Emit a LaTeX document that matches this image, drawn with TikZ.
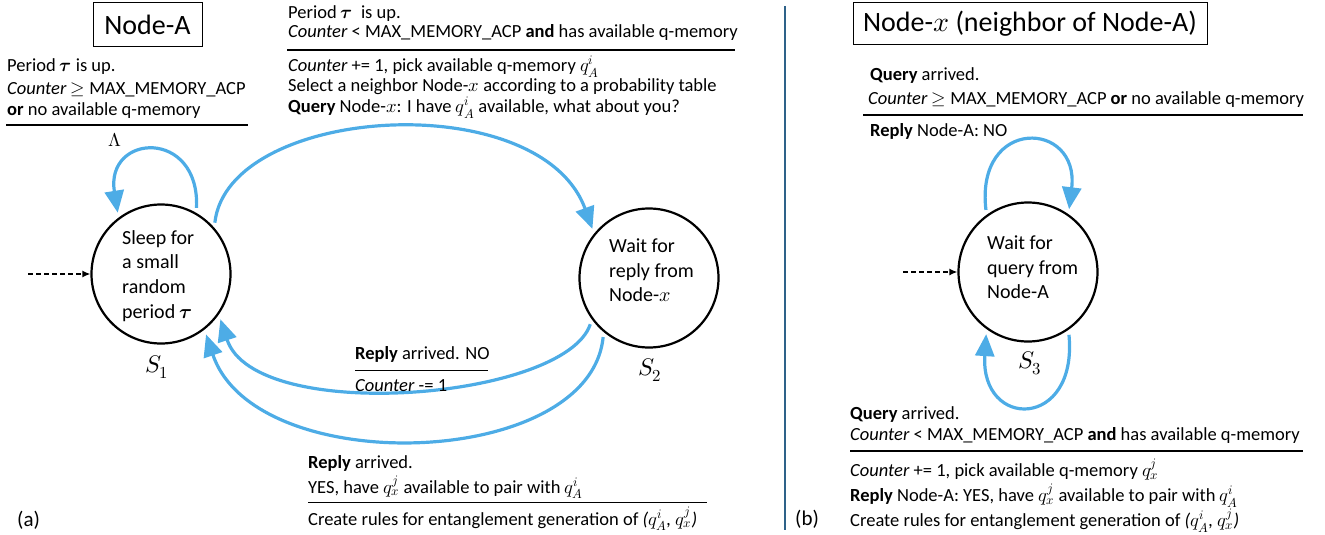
\documentclass[tikz,border=0pt]{standalone}
\usepackage{fontspec}
\usepackage{unicode-math}
\setmainfont{Carlito}
\setmathfont{Latin Modern Math}
\usetikzlibrary{arrows.meta}
\definecolor{arrowblue}{RGB}{77,172,230}
\definecolor{divblue}{RGB}{46,98,137}
\begin{document}
\begin{tikzpicture}[x=1pt,y=-1pt,
 txt/.style={anchor=base west, inner sep=0pt, font=\fontsize{18.5}{22}\selectfont},
 ctxt/.style={anchor=base west, inner sep=0pt, font=\fontsize{20}{24}\selectfont},
 state/.style={circle, draw, line width=2.2pt, minimum size=139pt, inner sep=0pt},
 trans/.style={draw=arrowblue, line width=3.2pt, shorten <=5pt, shorten >=5pt, -{Triangle[length=22pt,width=19pt]}},
 init/.style={draw, line width=1.5pt, dash pattern=on 5pt off 3pt, -{Latex[length=8pt,width=7pt]}},
 hrule/.style={line width=1.2pt},
 titlebox/.style={draw, line width=1pt, font=\fontsize{28}{32}\selectfont, inner sep=0pt},
 slabel/.style={font=\fontsize{24}{28}\selectfont, inner sep=0pt},
 panel/.style={anchor=base west, inner sep=0pt, font=\fontsize{21}{24}\selectfont}
]
\useasboundingbox (0,0) rectangle (1325,535);

% titles
\node[titlebox, minimum width=109pt, minimum height=44pt] (titleA) at (147.5,25) {Node-A};
\node[titlebox, minimum width=354pt, minimum height=42pt] (titleX) at (1030,24) {Node-$x$ (neighbor of Node-A)};

% divider
\draw[divblue, line width=2.5pt] (785,6) -- (785,530);

% states
\node[state] (s1) at (161,274) {};
\node[state] (s2) at (649,278) {};
\node[state] (s3) at (1028,272) {};

\node[ctxt] (s1a) at (122,244.3) {Sleep for};
\node[ctxt] (s1b) at (122,268.3) {a small};
\node[ctxt] (s1c) at (122,293.3) {random};
\node[ctxt] (s1d) at (122,318.3) {period $\symbfit{\tau}$};

\node[ctxt] (s2a) at (609,252.7) {Wait for};
\node[ctxt] (s2b) at (609,277.3) {reply from};
\node[ctxt] (s2c) at (609,301.7) {Node-$x$};

\node[ctxt] (s3a) at (987,249.3) {Wait for};
\node[ctxt] (s3b) at (987,274) {query from};
\node[ctxt] (s3c) at (987,298.3) {Node-A};

\node[slabel] (l1) at (157,367) {$S_1$};
\node[slabel] (l2) at (650,370) {$S_2$};
\node[slabel] (l3) at (1030,363) {$S_3$};

% initial arrows
\coordinate (d1) at (28,274);
\coordinate (d3) at (903,272);
\draw[init] (d1) -- (s1.west);
\draw[init] (d3) -- (s3.west);

% transitions
\draw[trans] (s1.60) .. controls (200,128) and (105,133) .. (s1.127);
\draw[trans] (s1.41) .. controls (228,105) and (540,85) .. (s2.141);
\draw[trans] (s2.216) .. controls (565,400) and (255,425) .. (s1.325);
\draw[trans] (s2.230) .. controls (590,470) and (255,480) .. (s1.308);
\draw[trans] (s3.126) .. controls (975,116) and (1080,120) .. (s3.55);
\draw[trans] (s3.-55) .. controls (1078,430) and (980,430) .. (s3.-126);

% top-left label
\node[txt] (tl1) at (7,71.7) {Period $\symbfit{\tau}$ is up.};
\node[txt] (tl2) at (7,94) {\textit{Counter} $\geq$ MAX\_MEMORY\_ACP};
\node[txt] (tl3) at (7,115) {\textbf{or} no available q-memory};
\draw[hrule] (6,125) -- (248,125);
\node[txt, anchor=base] (lam) at (115,146.7) {$\Lambda$};

% top-middle label
\node[txt] (tm1) at (288,18.3) {Period $\symbfit{\tau}$\ \ is up.};
\node[txt] (tm2) at (288,38) {\textit{Counter} < MAX\_MEMORY\_ACP \textbf{and} has available q-memory};
\draw[hrule] (287,50) -- (735,50);
\node[txt] (tm3) at (288,71.5) {\textit{Counter} += 1, pick available q-memory $q_A^i$};
\node[txt] (tm4) at (288,92) {Select a neighbor Node-$x$ according to a probability table};
\node[txt] (tm5) at (288,112.5) {\textbf{Query} Node-$x$: I have $q_A^i$ available, what about you?};

% bottom-middle labels
\node[txt] (no1) at (355,359.3) {\textbf{Reply} arrived. NO};
\draw[hrule] (355,370.7) -- (488,370.7);
\node[txt] (no2) at (355,391.7) {\textit{Counter} -= 1};

\node[txt] (ys1) at (308,468) {\textbf{Reply} arrived.};
\node[txt] (ys2) at (308,493.3) {YES, have $q_x^j$ available to pair with $q_A^i$};
\draw[hrule] (308,502.7) -- (707,502.7);
\node[txt] (ys3) at (308,525) {Create rules for entanglement generation of \textit{(}$q_A^i$\textit{, }$q_x^j$\textit{)}};

% right top label
\node[txt] (rt1) at (870,81) {\textbf{Query} arrived.};
\node[txt] (rt2) at (868,104) {\textit{Counter} $\geq$ MAX\_MEMORY\_ACP \textbf{or} no available q-memory};
\draw[hrule] (863,115) -- (1303,115);
\node[txt] (rt3) at (870,136.7) {\textbf{Reply} Node-A: NO};

% right bottom label
\node[txt] (rb1) at (850,419.3) {\textbf{Query} arrived.};
\node[txt] (rb2) at (850,440) {\textit{Counter} < MAX\_MEMORY\_ACP \textbf{and} has available q-memory};
\draw[hrule] (850,451) -- (1303,451);
\node[txt] (rb3) at (850,476.7) {\textit{Counter} += 1, pick available q-memory $q_x^j$};
\node[txt] (rb4) at (850,501.7) {\textbf{Reply} Node-A: YES, have $q_x^j$ available to pair with $q_A^i$};
\node[txt] (rb5) at (850,526.7) {Create rules for entanglement generation of \textit{(}$q_A^i$\textit{, }$q_x^j$\textit{)}};

% panel labels
\node[panel] (pa) at (17,526) {(a)};
\node[panel] (pb) at (795,525) {(b)};
\end{tikzpicture}
\end{document}
